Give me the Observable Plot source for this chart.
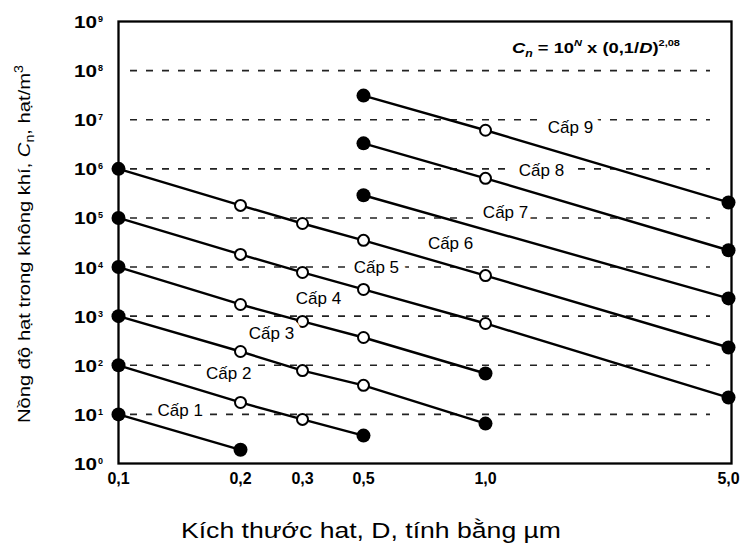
<!DOCTYPE html>
<html><head><meta charset="utf-8">
<script src="https://cdn.jsdelivr.net/npm/d3@7"></script>
<script src="https://cdn.jsdelivr.net/npm/@observablehq/plot@0.6"></script>
<style>
body{margin:0;background:#fff;font-family:"Liberation Sans",Arial,sans-serif}
#chart svg{display:block}
</style>
</head><body><div id="chart"></div>
<script>
// Data: particle diameter D (µm) and concentration Cn (particles/m³)
const diam1 = [0.1, 0.2],                     conc1 = [10, 1.9];
const diam2 = [0.1, 0.2, 0.3, 0.5],           conc2 = [100, 17.5, 7.9, 3.7];
const diam3 = [0.1, 0.2, 0.3, 0.5, 1.0],      conc3 = [1000, 191, 78, 39, 6.5];
const diam4 = [0.1, 0.2, 0.3, 0.5, 1.0],      conc4 = [1e4, 1730, 780, 368, 68];
const diam5 = [0.1, 0.2, 0.3, 0.5, 1.0, 5.0], conc5 = [1e5, 18100, 7760, 3500, 710, 22];
const diam6 = [0.1, 0.2, 0.3, 0.5, 1.0, 5.0], conc6 = [1e6, 1.8e5, 7.7e4, 3.5e4, 6700, 230];
const diam7 = [0.5, 5.0],                     conc7 = [2.9e5, 2300];
const diam8 = [0.5, 1.0, 5.0],                conc8 = [3.3e6, 6.4e5, 2.2e4];
const diam9 = [0.5, 1.0, 5.0],                conc9 = [3.1e7, 6.1e6, 2.07e5];

const classNames = ["Cấp 1","Cấp 2","Cấp 3","Cấp 4","Cấp 5","Cấp 6","Cấp 7","Cấp 8","Cấp 9"];
const labelD = [0.142, 0.187, 0.245, 0.343, 0.538, 0.82, 1.142, 1.449, 1.756];
const labelC = [12, 68, 444, 2290, 9800, 30300, 1.29e5, 9.27e5, 6.97e6];

const xTicks = [0.1, 0.2, 0.3, 0.5, 1.0, 5.0];
const xTickLabels = ["0,1", "0,2", "0,3", "0,5", "1,0", "5,0"];
const yExponents = [0, 1, 2, 3, 4, 5, 6, 7, 8, 9];
const gridExponents = [1, 2, 3, 4, 5, 6, 7, 8];

const xTitle = "Kích thước hat, D, tính bằng µm";

const series = [
  [diam1, conc1], [diam2, conc2], [diam3, conc3], [diam4, conc4], [diam5, conc5],
  [diam6, conc6], [diam7, conc7], [diam8, conc8], [diam9, conc9]
];
const rows = series.flatMap(([ds, cs], i) =>
  ds.map((d, j) => ({cls: i + 1, D: d, C: cs[j], end: j === 0 || j === ds.length - 1})));
const labels = classNames.map((t, i) => ({t, D: labelD[i], C: labelC[i]}));

const W = 741, H = 548;
const plot = Plot.plot({
  width: W, height: H,
  marginLeft: 118, marginRight: 10, marginTop: 21, marginBottom: 85,
  style: {fontFamily: '"Liberation Sans", Arial, sans-serif', background: "white", color: "black"},
  x: {type: "log", domain: xTicks, range: [118, 240, 302, 363, 485, 728], axis: null},
  y: {type: "log", domain: [1, 1e9], axis: null},
  marks: [
    Plot.ruleY(gridExponents.map(e => 10 ** e), {stroke: "#222", strokeWidth: 1.6, strokeDasharray: "7,9", insetLeft: 12, insetRight: 21}),
    Plot.line(rows, {x: "D", y: "C", z: "cls", stroke: "black", strokeWidth: 2.4}),
    Plot.dot(rows.filter(d => !d.end), {x: "D", y: "C", r: 5.5, fill: "white", stroke: "black", strokeWidth: 2}),
    Plot.dot(rows.filter(d => d.end), {x: "D", y: "C", r: 7, fill: "black", stroke: "none"}),
    Plot.text(labels, {x: "D", y: "C", text: "t", fontSize: 17, fill: "black", stroke: "white", strokeWidth: 14}),
    Plot.frame({stroke: "black", strokeWidth: 2.3}),
    Plot.text(xTicks, {x: d => d, frameAnchor: "bottom", text: (d, i) => xTickLabels[i], dy: 20, fontSize: 16, fontWeight: "bold"})
  ]
});
document.getElementById("chart").appendChild(plot);

const svg = d3.select(plot);
const yScale = plot.scale("y");

// y tick labels 10^k, placed with the plot's y scale
const yLab = svg.append("g").attr("font-weight", "bold").attr("fill", "black");
yExponents.forEach(e => {
  const py = yScale.apply(10 ** e);
  yLab.append("text").attr("x", 97).attr("y", py + 7).attr("text-anchor", "end")
    .attr("font-size", 16).attr("textLength", 23).attr("lengthAdjust", "spacingAndGlyphs").text("10");
  yLab.append("text").attr("x", 98).attr("y", py + 1).attr("text-anchor", "start")
    .attr("font-size", 9).text(String(e));
});

// x axis title
svg.append("text").attr("x", 371).attr("y", 538).attr("text-anchor", "middle")
  .attr("font-size", 22).attr("fill", "black")
  .attr("textLength", 380).attr("lengthAdjust", "spacingAndGlyphs").text(xTitle);

// y axis title (rich text)
const yt = svg.append("text")
  .attr("transform", "translate(30,244) rotate(-90)")
  .attr("text-anchor", "middle").attr("font-size", 17).attr("fill", "black")
  .attr("textLength", 358).attr("lengthAdjust", "spacingAndGlyphs");
yt.append("tspan").text("Nồng độ hạt trong không khí, ");
yt.append("tspan").attr("font-style", "italic").text("C");
yt.append("tspan").attr("font-size", 12).attr("dy", 4).text("n");
yt.append("tspan").attr("dy", -4).text(", hạt/m");
yt.append("tspan").attr("font-size", 12).attr("dy", -7).text("3");

// formula
const ft = svg.append("text")
  .attr("x", 596).attr("y", 53)
  .attr("text-anchor", "middle").attr("font-size", 15).attr("font-weight", "bold").attr("fill", "black")
  .attr("textLength", 168).attr("lengthAdjust", "spacingAndGlyphs");
ft.append("tspan").attr("font-style", "italic").text("C");
ft.append("tspan").attr("font-style", "italic").attr("font-size", 10).attr("dy", 4).text("n");
ft.append("tspan").attr("dy", -4).text(" = 10");
ft.append("tspan").attr("font-style", "italic").attr("font-size", 9).attr("dy", -7).text("N");
ft.append("tspan").attr("dy", 7).text(" x (0,1/");
ft.append("tspan").attr("font-style", "italic").text("D");
ft.append("tspan").text(")");
ft.append("tspan").attr("font-size", 9).attr("dy", -7).text("2,08");
</script>
</body></html>
